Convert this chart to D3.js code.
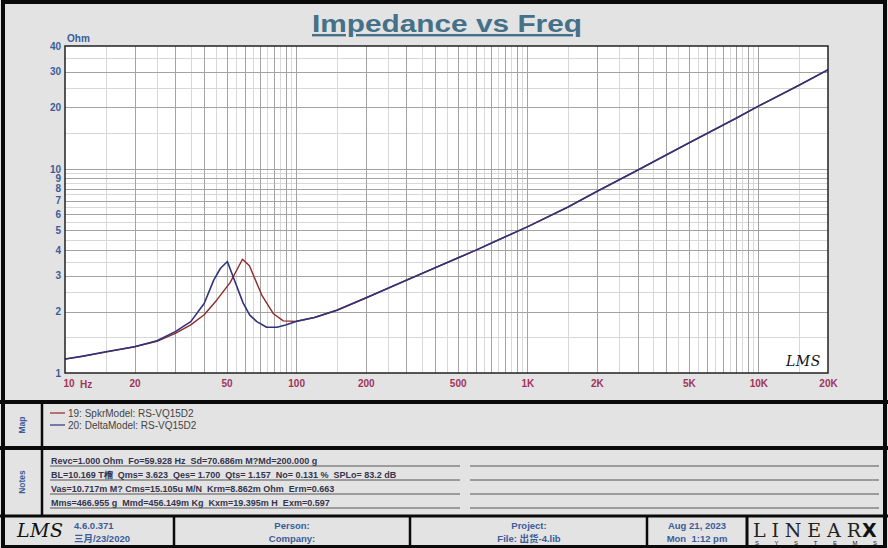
<!DOCTYPE html>
<html><head><meta charset="utf-8">
<script src="https://cdn.jsdelivr.net/npm/d3@7"></script>
<style>
html,body{margin:0;padding:0;background:#fff;}
svg{display:block;font-family:"Liberation Sans",Arial,sans-serif;}
text{white-space:pre;}
</style></head>
<body>
<svg id="c" width="888" height="548"></svg>
<script>
// ---------- data ----------
const chartTitle = "Impedance vs Freq";
const yUnit = "Ohm";
const redFreq = [10, 12, 15, 20, 25, 30, 35, 40, 45.4, 51.8, 55, 58.6, 62.8, 71, 79.8, 88, 100, 120, 150, 200, 300, 400, 500, 600, 700, 1000, 1500, 2000, 3000, 5000, 8000, 10000, 15000, 20000];
const redZ    = [1.17, 1.21, 1.265, 1.345, 1.43, 1.565, 1.72, 1.93, 2.28, 2.77, 3.15, 3.61, 3.35, 2.41, 1.95, 1.80, 1.79, 1.87, 2.03, 2.33, 2.85, 3.28, 3.66, 4.0, 4.33, 5.2, 6.5, 7.75, 9.85, 13.4, 17.7, 20.3, 25.7, 30.6];
const blueFreq = [10, 12, 15, 20, 25, 30, 35, 40, 44, 47, 50.4, 54.4, 59, 63, 67.6, 74.5, 82.5, 90, 100, 120, 150, 200, 300, 400, 500, 600, 700, 1000, 1500, 2000, 3000, 5000, 8000, 10000, 15000, 20000];
const blueZ    = [1.17, 1.21, 1.27, 1.345, 1.44, 1.595, 1.785, 2.19, 2.85, 3.25, 3.52, 2.80, 2.20, 1.92, 1.785, 1.675, 1.675, 1.72, 1.79, 1.87, 2.03, 2.33, 2.85, 3.28, 3.66, 4.0, 4.33, 5.2, 6.5, 7.75, 9.85, 13.4, 17.7, 20.3, 25.7, 30.6];
const seriesNames = ["19: SpkrModel: RS-VQ15D2", "20: DeltaModel: RS-VQ15D2"];
const yTicks = [1, 2, 3, 4, 5, 6, 7, 8, 9, 10, 20, 30, 40];
const xTicks = [10, 20, 50, 100, 200, 500, 1000, 2000, 5000, 10000, 20000];
const xTickLabels = ["10", "20", "50", "100", "200", "500", "1K", "2K", "5K", "10K", "20K"];
const notesLines = [
  "Revc=1.000 Ohm  Fo=59.928 Hz  Sd=70.686m M?Md=200.000 g",
  "BL=10.169 T榴  Qms= 3.623  Qes= 1.700  Qts= 1.157  No= 0.131 %  SPLo= 83.2 dB",
  "Vas=10.717m M? Cms=15.105u M/N  Krm=8.862m Ohm  Erm=0.663",
  "Mms=466.955 g  Mmd=456.149m Kg  Kxm=19.395m H  Exm=0.597"
];
const footerVersion = ["4.6.0.371", "三月/23/2020"];
const footerPerson = ["Person:", "Company:"];
const footerProject = ["Project:", "File: 出货-4.lib"];
const footerDate = ["Aug 21, 2023", "Mon  1:12 pm"];

// ---------- layout ----------
const svg = d3.select("#c");
const W = 888, H = 548;
const plot = {l: 65, t: 46, r: 828, b: 373};
const bg = "#e3e3e3";
const redC = "#8e2a2a", blueC = "#30337a";
const yLabC = "#3b5c9a", xLabC = "#a0345a";

svg.append("rect").attr("width", W).attr("height", H).attr("fill", bg);

const x = d3.scaleLog().domain([10, 20000]).range([plot.l, plot.r]);
const y = d3.scaleLog().domain([1, 40]).range([plot.b, plot.t]);

svg.append("rect").attr("x", plot.l).attr("y", plot.t)
  .attr("width", plot.r - plot.l).attr("height", plot.b - plot.t).attr("fill", "#fff");

function gridVals(lo, hi) {
  const out = [];
  for (let b = lo; b < hi; b *= 10) {
    for (let k = 1; k < 10; k += 0.5) {
      const v = b * k;
      if (v > lo && v < hi) out.push({v, major: Number.isInteger(k)});
    }
  }
  return out;
}
const gx = gridVals(10, 20000), gy = gridVals(1, 40);
const grid = svg.append("g").attr("shape-rendering", "crispEdges");
grid.selectAll(".gxm").data(gx.filter(d => !d.major)).join("line")
  .attr("x1", d => Math.round(x(d.v)) + 0.5).attr("x2", d => Math.round(x(d.v)) + 0.5)
  .attr("y1", plot.t).attr("y2", plot.b).attr("stroke", "#d8d8d8").attr("stroke-width", 1.5);
grid.selectAll(".gym").data(gy.filter(d => !d.major)).join("line")
  .attr("y1", d => Math.round(y(d.v)) + 0.5).attr("y2", d => Math.round(y(d.v)) + 0.5)
  .attr("x1", plot.l).attr("x2", plot.r).attr("stroke", "#d8d8d8").attr("stroke-width", 1.5);
grid.selectAll(".gxM").data(gx.filter(d => d.major)).join("line")
  .attr("x1", d => Math.round(x(d.v)) + 0.5).attr("x2", d => Math.round(x(d.v)) + 0.5)
  .attr("y1", plot.t).attr("y2", plot.b).attr("stroke", "#a3a3a3").attr("stroke-width", 1.3);
grid.selectAll(".gyM").data(gy.filter(d => d.major)).join("line")
  .attr("y1", d => Math.round(y(d.v)) + 0.5).attr("y2", d => Math.round(y(d.v)) + 0.5)
  .attr("x1", plot.l).attr("x2", plot.r).attr("stroke", "#a3a3a3").attr("stroke-width", 1.3);

// curves
const line = d3.line().x(d => x(d[0])).y(d => y(d[1])).curve(d3.curveLinear);
const redData = redFreq.map((f, i) => [f, redZ[i]]);
const blueData = blueFreq.map((f, i) => [f, blueZ[i]]);
svg.append("path").datum(redData).attr("d", line).attr("fill", "none")
  .attr("stroke", redC).attr("stroke-width", 1.4).attr("stroke-linejoin", "round");
svg.append("path").datum(blueData).attr("d", line).attr("fill", "none")
  .attr("stroke", blueC).attr("stroke-width", 1.6).attr("stroke-linejoin", "round");

svg.append("rect").attr("x", plot.l).attr("y", plot.t)
  .attr("width", plot.r - plot.l).attr("height", plot.b - plot.t)
  .attr("fill", "none").attr("stroke", "#222").attr("stroke-width", 1.5);

const yAxis = d3.axisLeft(y).tickValues(yTicks).tickFormat(d3.format("d")).tickSize(0).tickPadding(4);
const ya = svg.append("g").attr("transform", `translate(${plot.l},0)`).call(yAxis);
ya.select(".domain").remove();
ya.selectAll("text").attr("fill", yLabC).attr("font-size", 10).attr("font-weight", "bold")
  .attr("font-family", "'Liberation Sans',Arial,sans-serif");

const xAxis = d3.axisBottom(x).tickValues(xTicks).tickFormat((d, i) => xTickLabels[i]).tickSize(0).tickPadding(7);
const xa = svg.append("g").attr("transform", `translate(0,${plot.b})`).call(xAxis);
xa.select(".domain").remove();
xa.selectAll("text").attr("fill", xLabC).attr("font-size", 10).attr("font-weight", "bold")
  .attr("font-family", "'Liberation Sans',Arial,sans-serif");
xa.selectAll(".tick").filter(d => d === 10).select("text").attr("text-anchor", "start").attr("dx", -2);
svg.append("text").attr("x", 80).attr("y", plot.b + 15).attr("fill", xLabC)
  .attr("font-size", 10).attr("font-weight", "bold").text("Hz");

svg.append("text").attr("x", 67).attr("y", 42).attr("fill", yLabC)
  .attr("font-size", 10).attr("font-weight", "bold").text(yUnit);

svg.append("text").attr("x", 447).attr("y", 32).attr("text-anchor", "middle")
  .attr("fill", "#447088").attr("font-size", 24).attr("font-weight", "bold")
  .attr("textLength", 270).attr("lengthAdjust", "spacingAndGlyphs")
  .attr("text-decoration", "underline").text(chartTitle);

function lmsSig(px, py, s) {
  svg.append("text").attr("x", px).attr("y", py)
    .attr("font-family", "'DejaVu Serif',serif").attr("font-style", "italic")
    .attr("font-size", s).attr("fill", "#111").attr("letter-spacing", 0.5).text("LMS");
}
lmsSig(786, 366, 14);

// ---------- panels ----------
const blk = "#0a0a0a";
function hline(y0, x0, x1, w) { svg.append("line").attr("x1", x0).attr("x2", x1).attr("y1", y0).attr("y2", y0).attr("stroke", blk).attr("stroke-width", w); }
function vline(x0, y0, y1, w) { svg.append("line").attr("x1", x0).attr("x2", x0).attr("y1", y0).attr("y2", y1).attr("stroke", blk).attr("stroke-width", w); }

hline(402, 0, W, 4);
hline(448, 0, W, 4);
hline(516, 0, W, 3);
vline(42, 402, 516, 2.5);

[["Map", 425], ["Notes", 482]].forEach(([t, cy]) => {
  svg.append("text").attr("transform", `translate(25,${cy}) rotate(-90)`)
    .attr("text-anchor", "middle").attr("fill", yLabC).attr("font-size", 8.5)
    .attr("font-weight", "bold").text(t);
});

const legColors = [redC, blueC];
seriesNames.forEach((n, i) => {
  const ly = 413 + i * 12;
  svg.append("line").attr("x1", 50).attr("x2", 65).attr("y1", ly).attr("y2", ly)
    .attr("stroke", legColors[i]).attr("stroke-width", 1.2);
  svg.append("text").attr("x", 68).attr("y", ly + 3.5).attr("fill", "#444")
    .attr("font-size", 10).text(n);
});

notesLines.forEach((t, i) => {
  const ly = 466 + i * 14;
  svg.append("text").attr("x", 51).attr("y", ly - 2).attr("fill", "#34344e")
    .attr("font-size", 9).attr("font-weight", "bold").text(t);
  svg.append("line").attr("x1", 50).attr("x2", 460).attr("y1", ly).attr("y2", ly)
    .attr("stroke", "#555").attr("stroke-width", 1);
  svg.append("line").attr("x1", 470).attr("x2", 879).attr("y1", ly).attr("y2", ly)
    .attr("stroke", "#555").attr("stroke-width", 1);
});

vline(174, 516, H, 2.5);
vline(410, 516, H, 2.5);
vline(647, 516, H, 2.5);
vline(747, 516, H, 3);
lmsSig(17, 537, 19);
function twoLines(arr, px, anchor) {
  arr.forEach((t, i) => {
    svg.append("text").attr("x", px).attr("y", 529 + i * 12.5).attr("text-anchor", anchor)
      .attr("fill", yLabC).attr("font-size", 9.5).attr("font-weight", "bold")
      .attr("font-family", "'Liberation Sans','Noto Sans CJK SC',sans-serif").text(t);
  });
}
twoLines(footerVersion, 74, "start");
twoLines(footerPerson, 292, "middle");
twoLines(footerProject, 529, "middle");
twoLines(footerDate, 697, "middle");

svg.append("text").attr("x", 753).attr("y", 537).attr("font-family", "'DejaVu Serif',serif")
  .attr("font-size", 19).attr("fill", "#222")
  .attr("textLength", 108).attr("lengthAdjust", "spacing").text("LINEAR");
svg.append("text").attr("x", 862).attr("y", 537).attr("font-family", "'DejaVu Sans',sans-serif")
  .attr("font-size", 19).attr("font-weight", "bold").attr("fill", "#111").text("X");
svg.append("text").attr("x", 755).attr("y", 544.5).attr("font-size", 6).attr("fill", "#222")
  .attr("textLength", 122).attr("lengthAdjust", "spacing").text("SYSTEMS");

svg.append("rect").attr("x", 3).attr("y", 2).attr("width", W - 6).attr("height", H - 3)
  .attr("fill", "none").attr("stroke", blk).attr("stroke-width", 4);
</script>
</body></html>
